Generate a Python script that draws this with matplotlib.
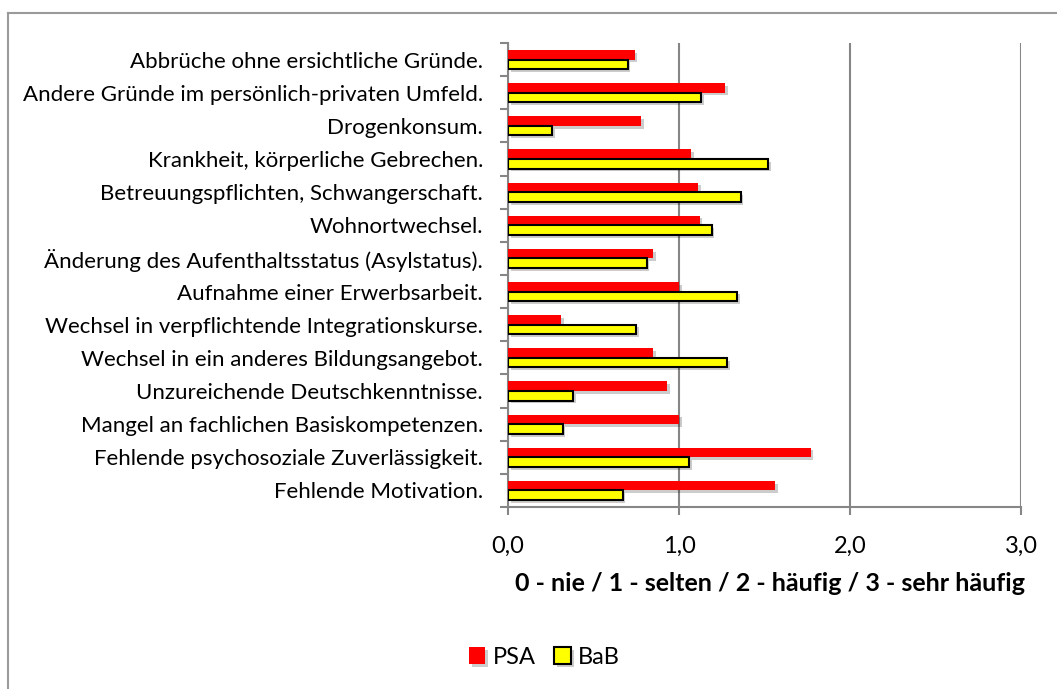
import matplotlib
matplotlib.use("Agg")
import matplotlib.pyplot as plt
import matplotlib.patheffects as pe
import numpy as np

categories = [
    "Abbrüche ohne ersichtliche Gründe.",
    "Andere Gründe im persönlich-privaten Umfeld.",
    "Drogenkonsum.",
    "Krankheit, körperliche Gebrechen.",
    "Betreuungspflichten, Schwangerschaft.",
    "Wohnortwechsel.",
    "Änderung des Aufenthaltsstatus (Asylstatus).",
    "Aufnahme einer Erwerbsarbeit.",
    "Wechsel in verpflichtende Integrationskurse.",
    "Wechsel in ein anderes Bildungsangebot.",
    "Unzureichende Deutschkenntnisse.",
    "Mangel an fachlichen Basiskompetenzen.",
    "Fehlende psychosoziale Zuverlässigkeit.",
    "Fehlende Motivation.",
]
psa = [0.74, 1.27, 0.78, 1.07, 1.11, 1.12, 0.85, 1.00, 0.31, 0.85, 0.93, 1.00, 1.77, 1.56]
bab = [0.70, 1.13, 0.26, 1.52, 1.36, 1.19, 0.81, 1.34, 0.75, 1.28, 0.38, 0.32, 1.06, 0.67]
xticks = [0, 1, 2, 3]
xticklabels = ["0,0", "1,0", "2,0", "3,0"]
xlabel = "0 - nie / 1 - selten / 2 - häufig / 3 - sehr häufig"

plt.rcParams["font.family"] = ["Lato", "DejaVu Sans"]
grey = "#868686"

fig = plt.figure(figsize=(10.57, 6.89), dpi=100)
ax = fig.add_axes([0.4806, 0.2642, 0.4854, 0.6734])

n = len(categories)
y = np.arange(n)
h = 0.29
shadow = [pe.SimplePatchShadow(offset=(2, -2), alpha=0.2, shadow_rgbFace="black"), pe.Normal()]
b1 = ax.barh(y - h / 2, psa, height=h, color="#ff0000", edgecolor="none", label="PSA", zorder=3)
b2 = ax.barh(y + h / 2, bab, height=h, color="#ffff00", edgecolor="black", linewidth=1.5, label="BaB", zorder=3)
for b in list(b1) + list(b2):
    b.set_path_effects(shadow)

ax.set_ylim(n - 0.5, -0.5)
ax.set_xlim(0, 3)
ax.set_yticks(y)
ax.set_yticklabels(categories, fontsize=16)
ax.set_yticks(np.arange(-0.5, n, 1), minor=True)
ax.tick_params(axis="y", which="major", length=0, pad=18)
ax.tick_params(axis="y", which="minor", length=6, color=grey, width=1.5)
ax.set_xticks(xticks)
ax.set_xticklabels(xticklabels, fontsize=17)
ax.tick_params(axis="x", length=6, color=grey, width=1.5, pad=15)
ax.set_xlabel(xlabel, fontsize=18, fontweight="bold", labelpad=11, x=0.51)

ax.grid(axis="x", color=grey, linewidth=1.5, zorder=0)
for s in ["top", "right"]:
    ax.spines[s].set_visible(False)
for s in ["left", "bottom"]:
    ax.spines[s].set_color(grey)
    ax.spines[s].set_linewidth(1.5)

leg = fig.legend(handles=[b1, b2], loc="center", bbox_to_anchor=(0.515, 0.046), ncol=2,
                 frameon=False, fontsize=17, handlelength=0.7, handleheight=0.7,
                 handletextpad=0.3, columnspacing=0.8)

# chart area border (top and left visible)
fig.add_artist(plt.Line2D([8 / 1057, 1.0], [1 - 13 / 689] * 2, color="#9a9a9a", linewidth=1.5))
fig.add_artist(plt.Line2D([8 / 1057] * 2, [0.0, 1 - 13 / 689], color="#9a9a9a", linewidth=1.5))

fig.savefig("out.png", dpi=100)
